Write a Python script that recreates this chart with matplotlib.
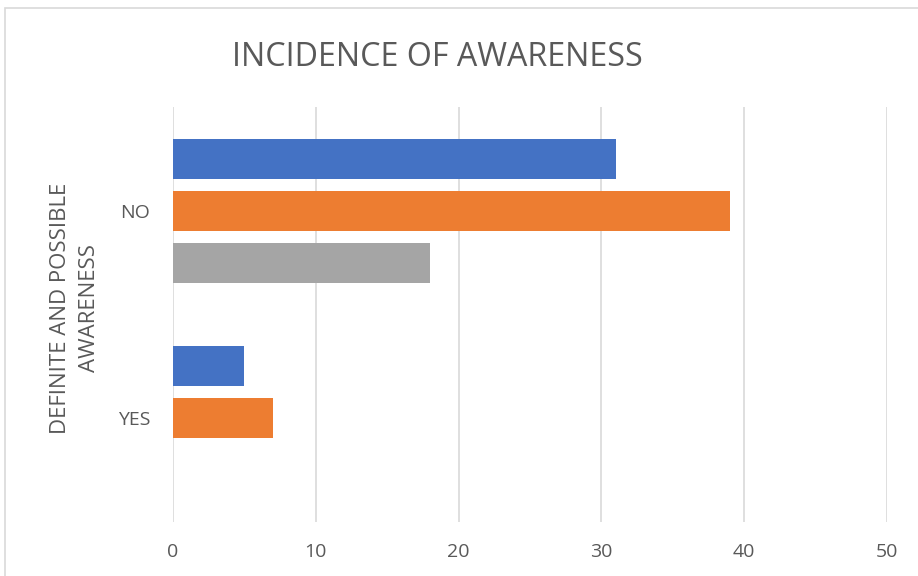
import matplotlib
matplotlib.use("Agg")
import matplotlib.pyplot as plt
from matplotlib.patches import Rectangle
import numpy as np

plt.rcParams['font.family'] = ['Open Sans', 'DejaVu Sans']

categories = ["NO", "YES"]
series_a = [31, 5]
series_b = [39, 7]
series_c = [18, 0]
colors = ["#4472C4", "#ED7D31", "#A5A5A5"]
xticks = [0, 10, 20, 30, 40, 50]

fig = plt.figure(figsize=(9.18, 5.76), dpi=100)
fig.patch.set_facecolor("white")
fig.patches.append(Rectangle((5/918, -0.1), 1.2, 1 - 8/576 + 0.1, transform=fig.transFigure,
                             fill=False, edgecolor="#D9D9D9", linewidth=1.2))

ax = fig.add_axes([173/918, 1 - 522/576, (887 - 173)/918, (522 - 107)/576])
y = np.arange(len(categories))
h = 0.193
step = 0.25
for i, (vals, c) in enumerate(zip([series_a, series_b, series_c], colors)):
    ax.barh(y + (i - 1) * step, vals, height=h, color=c, zorder=3)

ax.set_xlim(0, 50)
ax.set_ylim(1.5, -0.5)
ax.set_xticks(xticks)
ax.set_xticklabels([str(t) for t in xticks])
ax.set_yticks(y)
ax.set_yticklabels(categories)
ax.tick_params(axis='both', length=0, labelsize=14, labelcolor="#595959")
ax.tick_params(axis='x', pad=15)
ax.tick_params(axis='y', pad=16.5)
ax.grid(axis='x', color="#D9D9D9", linewidth=1.2, zorder=0)
for s in ax.spines.values():
    s.set_visible(False)

fig.text((231 + 643) / 2 / 918, 1 - 58/576, "INCIDENCE OF AWARENESS", ha="center", va="center",
         fontsize=23.2, color="#595959")
fig.text(75/918, 1 - 308/576, "DEFINITE AND POSSIBLE\nAWARENESS", ha="center", va="center",
         rotation=90, fontsize=16, color="#595959", linespacing=1.45)

fig.savefig("out.png", dpi=100)
